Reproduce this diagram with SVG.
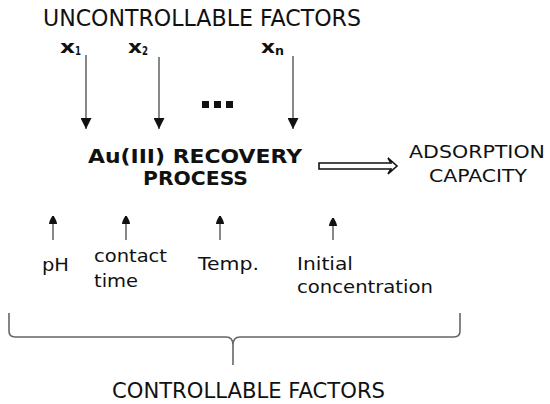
<svg xmlns="http://www.w3.org/2000/svg" width="550" height="404" viewBox="0 0 550 404">
<style>
text{font-family:"DejaVu Sans","Verdana",sans-serif;fill:#111}
.b{font-weight:bold}
.t18{font-size:18.5px}
.ln{stroke:#555;stroke-width:1.4;fill:none}
.brace{stroke:#666;stroke-width:1.6;fill:none}
</style>
<defs>
<marker id="ah" viewBox="0 0 10 10" refX="10" refY="5" markerWidth="11" markerHeight="11" markerUnits="userSpaceOnUse" orient="auto">
<path d="M0,0 L10,5 L0,10 Z" fill="#111"/>
</marker>
<marker id="ahs" viewBox="0 0 10 10" refX="10" refY="5" markerWidth="8" markerHeight="9" markerUnits="userSpaceOnUse" orient="auto">
<path d="M0,0 Q3,0 10,4 Q10.5,5 10,6 Q3,10 0,10 Z" fill="#111"/>
</marker>
</defs>
<rect width="550" height="404" fill="#fff"/>

<g id="uncontrollable">
<text x="43" y="26" font-size="23.5" textLength="318" lengthAdjust="spacingAndGlyphs">UNCONTROLLABLE FACTORS</text>
</g>
<g id="x1">
<text x="60" y="53" class="b" font-size="17" textLength="15" lengthAdjust="spacingAndGlyphs">x</text>
<text x="75" y="55" class="b" font-size="11.5" textLength="6" lengthAdjust="spacingAndGlyphs">1</text>
</g>
<g id="x2">
<text x="128" y="53" class="b" font-size="17" textLength="14" lengthAdjust="spacingAndGlyphs">x</text>
<text x="142" y="55" class="b" font-size="11.5" textLength="6" lengthAdjust="spacingAndGlyphs">2</text>
</g>
<g id="xn">
<text x="261" y="53" class="b" font-size="17" textLength="14" lengthAdjust="spacingAndGlyphs">x</text>
<text x="275" y="55" class="b" font-size="11.5" textLength="9" lengthAdjust="spacingAndGlyphs">n</text>
</g>
<g id="dots" fill="#111">
<rect x="202" y="101" width="7" height="7"/>
<rect x="214" y="101" width="7" height="7"/>
<rect x="226" y="101" width="7" height="7"/>
</g>
<g id="process">
<text x="88" y="163" class="b" font-size="19.5" textLength="214" lengthAdjust="spacingAndGlyphs">Au(III) RECOVERY</text>
<text x="143" y="185" class="b" font-size="19.5" textLength="105" lengthAdjust="spacingAndGlyphs">PROCESS</text>
</g>
<g id="adsorption">
<text x="409" y="158" class="t18" textLength="136" lengthAdjust="spacingAndGlyphs">ADSORPTION</text>
<text x="429" y="182" class="t18" textLength="98" lengthAdjust="spacingAndGlyphs">CAPACITY</text>
</g>
<g id="ph">
<text x="42" y="271" class="t18" textLength="27" lengthAdjust="spacingAndGlyphs">pH</text>
</g>
<g id="contact-time">
<text x="94" y="262" class="t18" textLength="73" lengthAdjust="spacingAndGlyphs">contact</text>
<text x="94" y="287" class="t18" textLength="44" lengthAdjust="spacingAndGlyphs">time</text>
</g>
<g id="temp">
<text x="198" y="270" class="t18" textLength="61" lengthAdjust="spacingAndGlyphs">Temp.</text>
</g>
<g id="initial-concentration">
<text x="297" y="270" class="t18" textLength="56" lengthAdjust="spacingAndGlyphs">Initial</text>
<text x="297" y="293" class="t18" textLength="136" lengthAdjust="spacingAndGlyphs">concentration</text>
</g>
<g id="controllable">
<text x="112" y="398" font-size="20.5" textLength="273" lengthAdjust="spacingAndGlyphs">CONTROLLABLE FACTORS</text>
</g>

<g id="connectors">
<line class="ln" x1="86" y1="55" x2="86" y2="129" marker-end="url(#ah)"/>
<line class="ln" x1="159" y1="57" x2="159" y2="129" marker-end="url(#ah)"/>
<line class="ln" x1="293" y1="56" x2="293" y2="129" marker-end="url(#ah)"/>
<line class="ln" x1="53" y1="240" x2="53" y2="216" marker-end="url(#ahs)"/>
<line class="ln" x1="126" y1="240" x2="126" y2="216" marker-end="url(#ahs)"/>
<line class="ln" x1="220" y1="240" x2="220" y2="216" marker-end="url(#ahs)"/>
<line class="ln" x1="333" y1="240" x2="333" y2="218" marker-end="url(#ahs)"/>
<path d="M319,163 L391,163 L388,158 L397,166 L388,174 L391,169 L319,169 Z" fill="#fff" stroke="#111" stroke-width="1.6" stroke-linejoin="miter"/>
<path class="brace" d="M9,313 V331 Q9,337 15,337 H226 Q233,337 233,345 V365 M233,345 Q233,337 240,337 H454 Q460,337 460,331 V313"/>
</g>
</svg>
